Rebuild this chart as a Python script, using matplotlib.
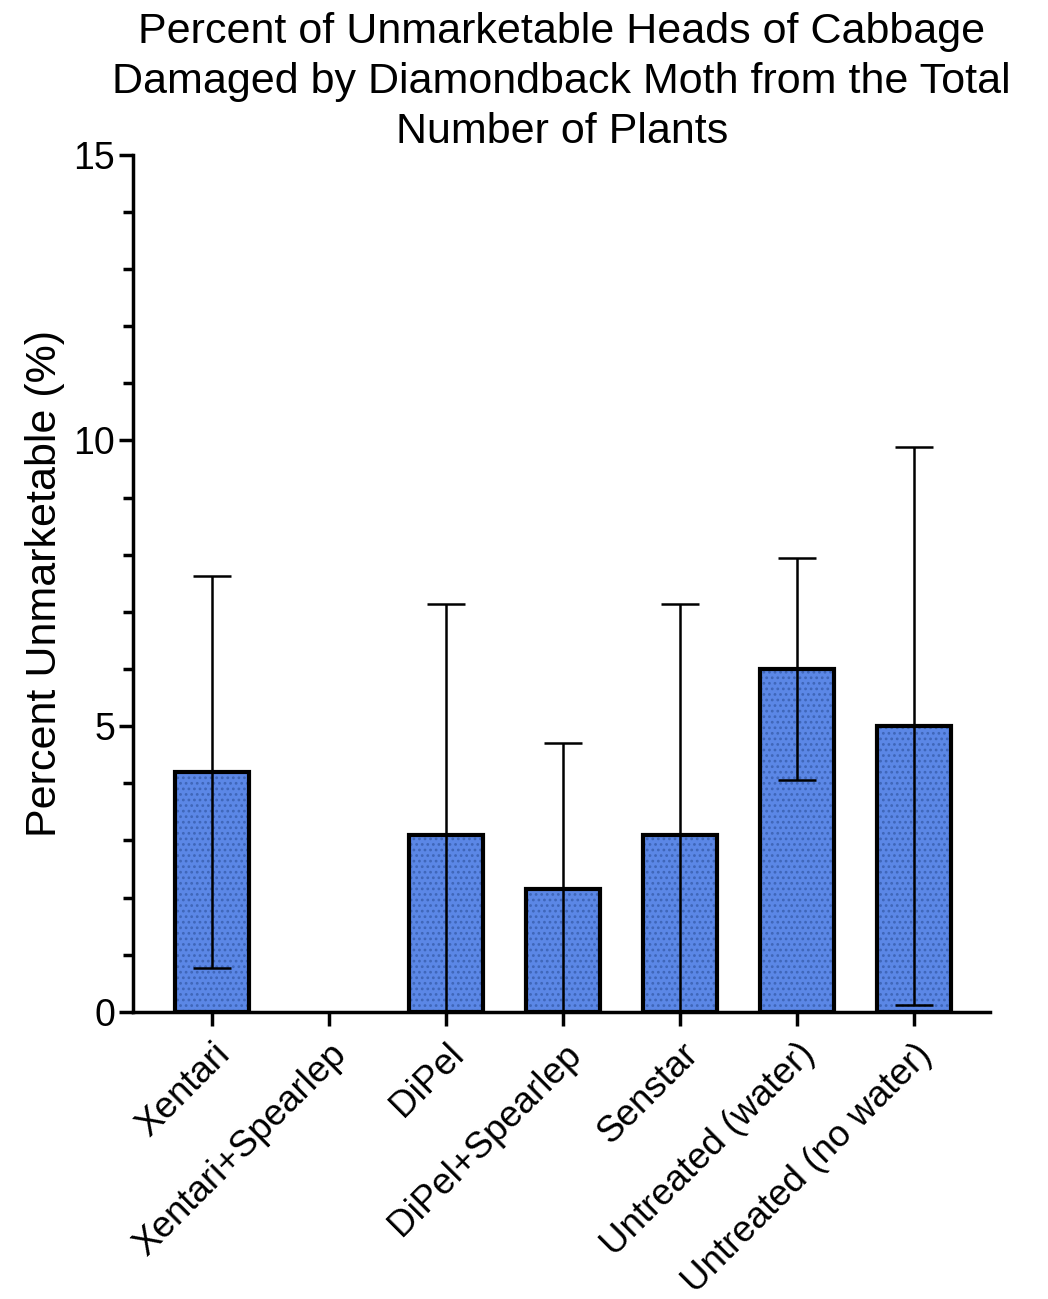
import matplotlib.pyplot as plt
import numpy as np

plt.rcParams['font.family'] = ['Liberation Sans', 'DejaVu Sans']
plt.rcParams['hatch.linewidth'] = 1.2

treatments = ['Xentari', 'Xentari+Spearlep', 'DiPel', 'DiPel+Spearlep',
              'Senstar', 'Untreated (water)', 'Untreated (no water)']
mean_pct = [4.2, 0.0, 3.1, 2.15, 3.1, 6.0, 5.0]
err_pct = [3.43, 0.0, 4.03, 2.55, 4.03, 1.95, 4.88]

fig, ax = plt.subplots(figsize=(10.48, 12.99), dpi=100)
fig.subplots_adjust(left=0.127, right=0.945, top=0.881, bottom=0.221)

x = np.arange(len(treatments))
# fill + dotted texture, then black outline on top
fill = ax.bar(x, mean_pct, width=0.63, color='#5b87e6', hatch='...',
              edgecolor='#3f66b8', linewidth=0, zorder=2)
outline = ax.bar(x, mean_pct, width=0.63, fill=False, edgecolor='black',
                 linewidth=3, zorder=3)
for i in range(len(x)):
    if mean_pct[i] == 0:
        fill[i].set_visible(False)
        outline[i].set_visible(False)
        continue
    ax.errorbar(x[i], mean_pct[i], yerr=err_pct[i], fmt='none', ecolor='black',
                elinewidth=1.8, capsize=14, capthick=1.8, zorder=4)

ax.set_xlim(-0.675, 6.65)
ax.set_ylim(0, 15)
ax.set_yticks([0, 5, 10, 15])
ax.set_yticks(np.arange(0, 16, 1), minor=True)
ax.set_xticks(x)
ax.set_xticklabels(treatments, rotation=45, ha='right', rotation_mode='anchor')

for s in ['top', 'right']:
    ax.spines[s].set_visible(False)
for s in ['left', 'bottom']:
    ax.spines[s].set_linewidth(2.5)
ax.tick_params(axis='y', which='major', width=2.5, length=10, labelsize=27, pad=3)
ax.tick_params(axis='y', which='minor', width=2.5, length=7)
ax.tick_params(axis='x', which='major', width=2.5, length=10, labelsize=26.5, pad=8)

ax.set_ylabel('Percent Unmarketable (%)', fontsize=31, labelpad=6)
ax.set_title('Percent of Unmarketable Heads of Cabbage\n'
             'Damaged by Diamondback Moth from the Total\n'
             'Number of Plants', fontsize=31, pad=8, linespacing=1.33)

plt.savefig('out.png', dpi=100)
